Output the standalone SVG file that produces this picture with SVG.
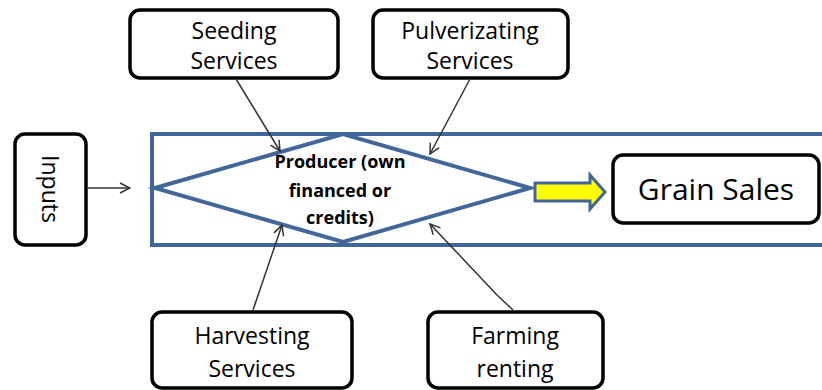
<svg xmlns="http://www.w3.org/2000/svg" width="822" height="390" viewBox="0 0 822 390">
<style>
.box{fill:#fff;stroke:#000;stroke-width:3.5}
.t{font-family:"Open Sans","Liberation Sans",sans-serif;font-size:23px;fill:#000;text-anchor:middle}
.b{font-weight:bold;font-size:18px}
.c{stroke:#333;stroke-width:1.5;fill:none;marker-end:url(#ah)}
</style>
<defs>
<marker id="ah" viewBox="0 0 12 12" refX="11" refY="6" markerWidth="12" markerHeight="12" markerUnits="userSpaceOnUse" orient="auto">
<path d="M1,1 L11,6 L1,11" fill="none" stroke="#333" stroke-width="1.5"/>
</marker>
</defs>
<rect width="822" height="390" fill="#fff"/>
<g id="producer-frame">
<rect x="152" y="134" width="680" height="111" fill="none" stroke="#41679a" stroke-width="4"/>
</g>
<g id="producer">
<polygon points="155,188 343,134 530,188 343,242" fill="#fff" stroke="#41679a" stroke-width="4"/>
<text class="t b" x="340" y="168">Producer (own</text>
<text class="t b" x="340" y="197">financed or</text>
<text class="t b" x="340" y="224">credits)</text>
</g>
<g id="seeding">
<rect class="box" x="130" y="10" width="208" height="68" rx="10"/>
<text class="t" x="234" y="39">Seeding</text>
<text class="t" x="234" y="69">Services</text>
</g>
<g id="pulverizating">
<rect class="box" x="373" y="10" width="195" height="68" rx="10"/>
<text class="t" x="470" y="39">Pulverizating</text>
<text class="t" x="470" y="69">Services</text>
</g>
<g id="inputs">
<rect class="box" x="15" y="134" width="71" height="111" rx="10"/>
<text class="t" transform="translate(42,189) rotate(90)" y="0">Inputs</text>
</g>
<g id="grain-sales">
<rect class="box" x="613" y="155" width="206" height="68" rx="10"/>
<text class="t" x="716" y="200" style="font-size:30px">Grain Sales</text>
</g>
<g id="harvesting">
<rect class="box" x="152" y="312" width="200" height="76" rx="10"/>
<text class="t" x="252" y="344">Harvesting</text>
<text class="t" x="252" y="377">Services</text>
</g>
<g id="farming">
<rect class="box" x="428" y="312" width="175" height="76" rx="10"/>
<text class="t" x="515" y="344">Farming</text>
<text class="t" x="515" y="377">renting</text>
</g>
<g id="connectors">
<line class="c" x1="236" y1="79" x2="280" y2="151"/>
<line class="c" x1="470" y1="79" x2="430" y2="154"/>
<line class="c" x1="253" y1="310" x2="282" y2="225"/>
<path class="c" d="M513,310 L497,295 L430,224"/>
<line class="c" x1="88" y1="188" x2="130" y2="188"/>
<polygon points="535,183 590,183 590,175 605,192 590,209 590,201 535,201" fill="#ffff00" stroke="#41679a" stroke-width="3"/>
</g>
</svg>
